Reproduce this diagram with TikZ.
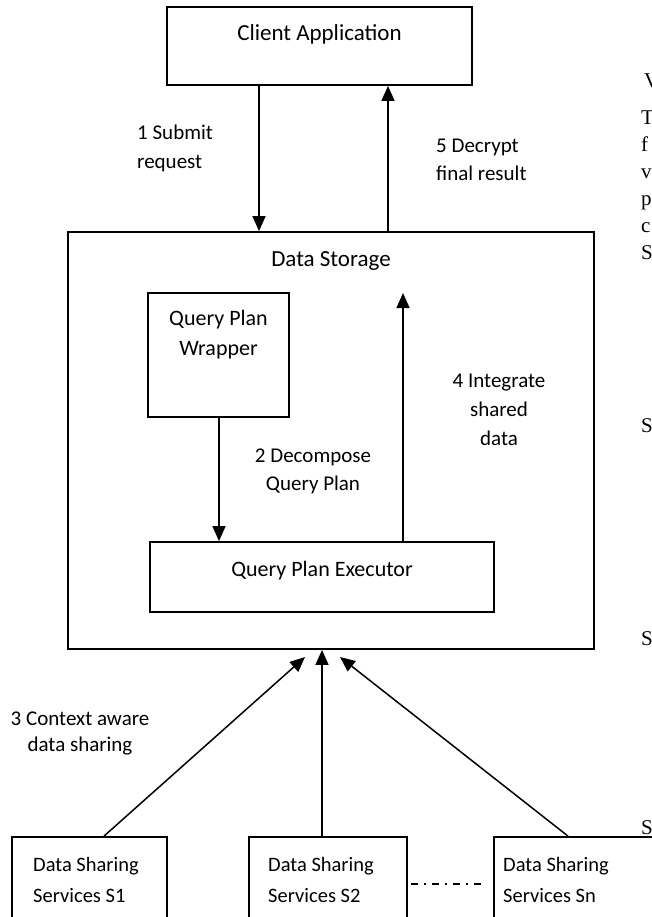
\documentclass[tikz,border=0pt]{standalone}
\usepackage{fontspec}
\setmainfont{Carlito}
\newfontfamily\pagefont{Liberation Serif}
\usetikzlibrary{arrows.meta}

% multi-line text whose reference point is the first baseline
\newcommand\txtlines[2]{\begin{tabular}[t]{@{}#1@{}}#2\end{tabular}}

\begin{document}
\begin{tikzpicture}[x=1pt,y=-1pt,
  box/.style={draw, rectangle, line width=1.8pt, inner sep=0pt},
  arr/.style={line width=1.5pt, -{Triangle[length=15pt,width=13pt]}},
  bigtext/.style={inner sep=0pt, anchor=base, font=\fontsize{23}{29}\selectfont},
  midtext/.style={inner sep=0pt, anchor=base, font=\fontsize{22}{#1}\selectfont},
  lbl/.style={inner sep=0pt, font=\fontsize{21}{#1}\selectfont},
  svctext/.style={inner sep=0pt, anchor=base west, font=\fontsize{20.5}{31}\selectfont},
  margintext/.style={inner sep=0pt, anchor=base west, font=\pagefont\fontsize{21}{27}\selectfont},
  dashdot/.style={line width=1.2pt, dash pattern=on 7pt off 6pt on 2pt off 6pt}
]
\useasboundingbox (0,0) rectangle (651,917);

% boxes
\node[box, minimum width=305pt, minimum height=78pt]  (client) at (319.5,46)  {};
\node[box, minimum width=526pt, minimum height=417pt] (ds)     at (331,440.5) {};
\node[box, minimum width=141pt, minimum height=124pt] (qpw)    at (218.5,355) {};
\node[box, minimum width=344pt, minimum height=70pt]  (qpe)    at (322,577)   {};
\node[box, minimum width=155pt, minimum height=120pt] (s1)     at (89.5,897)  {};
\node[box, minimum width=158pt, minimum height=120pt] (s2)     at (328,897)   {};
\node[box, minimum width=166pt, minimum height=120pt] (sn)     at (577,897)   {};

% box texts
\node[bigtext] (tclient) at (319.5,40.5) {Client Application};
\node[bigtext] (tds)     at (331,266.5)  {Data Storage};
\node[midtext=30] (tqpw) at (218.5,325)  {\txtlines{c}{Query Plan\\Wrapper}};
\node[midtext=29] (tqpe) at (322,576)    {Query Plan Executor};
\node[svctext] (ts1) at (33,871)  {\txtlines{l}{Data Sharing\\Services S1}};
\node[svctext] (ts2) at (268,871) {\txtlines{l}{Data Sharing\\Services S2}};
\node[svctext] (tsn) at (503,871) {\txtlines{l}{Data Sharing\\Services Sn}};

% connector positions
\coordinate (x1) at (259,0);
\coordinate (x5) at (388,0);
\coordinate (x2) at (219,0);
\coordinate (x4) at (403,0);
\coordinate (top4) at (403,293);
\coordinate (c3) at (104,0);
\coordinate (t3) at (305,657);
\coordinate (xs2) at (322,0);
\coordinate (cn) at (568,0);
\coordinate (tn) at (340,657);
\coordinate (dd) at (0,884);

% connectors
\draw[arr] (x1 |- client.south) -- (x1 |- ds.north);
\draw[arr] (x5 |- ds.north) -- (x5 |- client.south);
\draw[arr] (x2 |- qpw.south) -- (x2 |- qpe.north);
\draw[arr] (x4 |- qpe.north) -- (top4);
\draw[arr] (c3 |- s1.north) -- (t3);
\draw[arr] (xs2 |- s2.north) -- (xs2 |- ds.south);
\draw[arr] (cn |- sn.north) -- (tn);
\draw[dashdot, shorten <=3pt, shorten >=7pt] (s2.east |- dd) -- (sn.west |- dd);

% connector labels
\node[lbl=29, anchor=base west] (l1) at (137,140) {\txtlines{l}{1 Submit\\request}};
\node[lbl=28, anchor=base west] (l5) at (436,153) {\txtlines{l}{5 Decrypt\\final result}};
\node[lbl=28, anchor=base] (l2) at (313,462) {\txtlines{c}{2 Decompose\\Query Plan}};
\node[lbl=29, anchor=base] (l4) at (499,387) {\txtlines{c}{4 Integrate\\shared\\data}};
\node[lbl=26, anchor=base] (l3) at (80,725)  {\txtlines{c}{3 Context aware\\data sharing}};

% text of the neighbouring page column
\node[margintext] (m0) at (644,88)  {V};
\node[margintext] (m1) at (641,125) {\txtlines{l}{T\\f\\v\\p\\c\\S}};
\node[margintext] (m2) at (641,432) {S};
\node[margintext] (m3) at (641,645) {S};
\node[margintext] (m4) at (641,834) {S};
\end{tikzpicture}
\end{document}
